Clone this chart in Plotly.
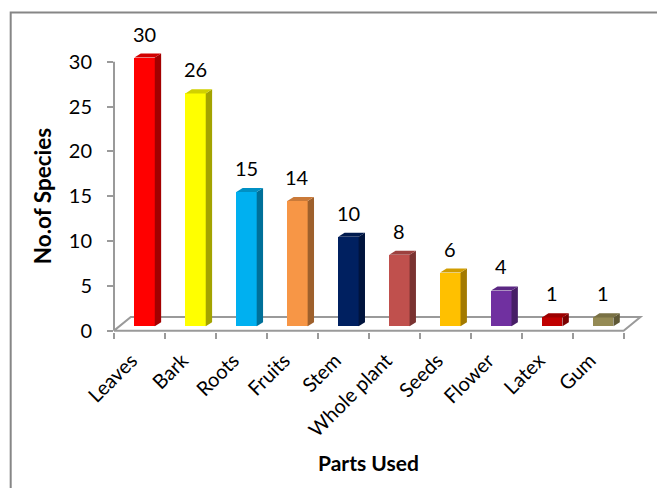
import plotly.graph_objects as go

# ---- data ----
categories = ["Leaves", "Bark", "Roots", "Fruits", "Stem", "Whole plant",
              "Seeds", "Flower", "Latex", "Gum"]
species_counts = [30, 26, 15, 14, 10, 8, 6, 4, 1, 1]
bar_colors = ["#FF0000", "#FFFF00", "#00B0F0", "#F79646", "#002060",
              "#C0504D", "#FFC000", "#7030A0", "#C00000", "#948A54"]
y_tick_values = [0, 5, 10, 15, 20, 25, 30]

# ---- style / pseudo-3D geometry (in axis units) ----
FONT = "Lato, 'Open Sans', sans-serif"
AXIS_GRAY = "#9a9a9a"
BAR_BASE = 0.48        # bars stand slightly back on the floor
BAR_SHIFT = 0.10       # front face shift to the right of the category centre
BAR_WIDTH = 0.40
DEPTH_X = 0.125        # depth of the bar side (category units)
DEPTH_Y = 0.45         # depth of the bar top (value units)
FLOOR_DX = 0.33
FLOOR_DY = 1.53

W, H = 657, 488
L, R, T, B = 113.5, 12.5, 26.4, 155.7
X_RANGE = [-0.5, 9.9]
Y_RANGE = [-0.15, 34]
plot_w = W - L - R
plot_h = H - T - B


def shade(hex_color, f):
    h = hex_color.lstrip("#")
    r, g, b = (int(h[i:i + 2], 16) for i in (0, 2, 4))
    return "#%02x%02x%02x" % (int(r * f), int(g * f), int(b * f))


n = len(categories)
xs = list(range(n))

fig = go.Figure()
fig.add_trace(go.Bar(
    x=[x + BAR_SHIFT for x in xs],
    y=species_counts,
    base=BAR_BASE,
    width=BAR_WIDTH,
    marker=dict(color=bar_colors, line=dict(width=0)),
    cliponaxis=False,
    hoverinfo="skip",
))

shapes = []
# floor (pseudo-3D plane)
fx0, fx1 = -0.5, n - 0.5
shapes.append(dict(
    type="path", xref="x", yref="y", layer="below",
    path=(f"M {fx0},0 L {fx0 + FLOOR_DX},{FLOOR_DY} L {fx1 + FLOOR_DX},{FLOOR_DY} "
          f"L {fx1},0 Z"),
    line=dict(color=AXIS_GRAY, width=2), fillcolor="white",
))
# y axis line from 0 to the top tick
shapes.append(dict(
    type="line", xref="paper", yref="y", x0=0, x1=0,
    y0=0, y1=max(y_tick_values), layer="above",
    line=dict(color=AXIS_GRAY, width=2),
))

# side and top faces of each bar
for x, v, c in zip(xs, species_counts, bar_colors):
    left = x + BAR_SHIFT - BAR_WIDTH / 2
    right = x + BAR_SHIFT + BAR_WIDTH / 2
    bot = BAR_BASE
    top = BAR_BASE + v
    shapes.append(dict(
        type="path", xref="x", yref="y", layer="above",
        path=(f"M {right},{bot} L {right + DEPTH_X},{bot + DEPTH_Y} "
              f"L {right + DEPTH_X},{top + DEPTH_Y} L {right},{top} Z"),
        fillcolor=shade(c, 0.64), line=dict(width=0),
    ))
    shapes.append(dict(
        type="path", xref="x", yref="y", layer="above",
        path=(f"M {left},{top} L {right},{top} L {right + DEPTH_X},{top + DEPTH_Y} "
              f"L {left + DEPTH_X},{top + DEPTH_Y} Z"),
        fillcolor=shade(c, 0.82), line=dict(width=0),
    ))

# outer chart border (figure pixels -> paper coordinates)
def px_x(p):
    return (p - L) / plot_w


def px_y(p):
    return (H - B - p) / plot_h


shapes.append(dict(
    type="rect", xref="paper", yref="paper", layer="above",
    x0=px_x(10), x1=px_x(W + 10), y0=px_y(H + 10), y1=px_y(13),
    line=dict(color="#868686", width=2), fillcolor="rgba(0,0,0,0)",
))

annotations = []
for x, v in zip(xs, species_counts):
    annotations.append(dict(
        x=x + BAR_SHIFT, y=BAR_BASE + v + DEPTH_Y, xref="x", yref="y",
        text=str(v), showarrow=False, yanchor="bottom", yshift=6,
        font=dict(family=FONT, size=20, color="#000000"),
    ))
annotations.append(dict(
    x=(n - 1) / 2, xref="x", y=0, yref="paper", xanchor="center",
    yanchor="middle", yshift=-130.4, text="<b>Parts Used</b>",
    showarrow=False, font=dict(family=FONT, size=21, color="#000000"),
))
annotations.append(dict(
    x=0, xref="paper", xshift=-72, xanchor="center",
    y=max(y_tick_values) / 2, yref="y", yanchor="middle",
    text="<b>No.of Species</b>", textangle=-90, showarrow=False,
    font=dict(family=FONT, size=22.5, color="#000000"),
))

fig.update_layout(
    width=W, height=H,
    margin=dict(l=L, r=R, t=T, b=B, pad=0),
    paper_bgcolor="white", plot_bgcolor="white",
    showlegend=False,
    font=dict(family=FONT, size=20, color="#000000"),
    shapes=shapes, annotations=annotations,
    bargap=0,
)
fig.update_xaxes(
    range=X_RANGE, showline=False, showgrid=False, zeroline=False,
    tickmode="array", tickvals=xs, ticktext=categories, ticks="",
    tickangle=-45, tickfont=dict(family=FONT, size=20, color="#000000"),
    ticklabelstandoff=12, ticklabelshift=-8,
    minor=dict(tickmode="array", tickvals=[i - 0.5 for i in range(n + 1)],
               ticks="outside", ticklen=6, tickwidth=2, tickcolor=AXIS_GRAY,
               showgrid=False),
)
fig.update_yaxes(
    range=Y_RANGE, showline=False, showgrid=False, zeroline=False,
    tickmode="array", tickvals=y_tick_values, ticks="outside", ticklen=6,
    tickwidth=2, tickcolor=AXIS_GRAY, ticklabelstandoff=11,
    tickfont=dict(family=FONT, size=20, color="#000000"),
)

fig.write_html("out.html")
